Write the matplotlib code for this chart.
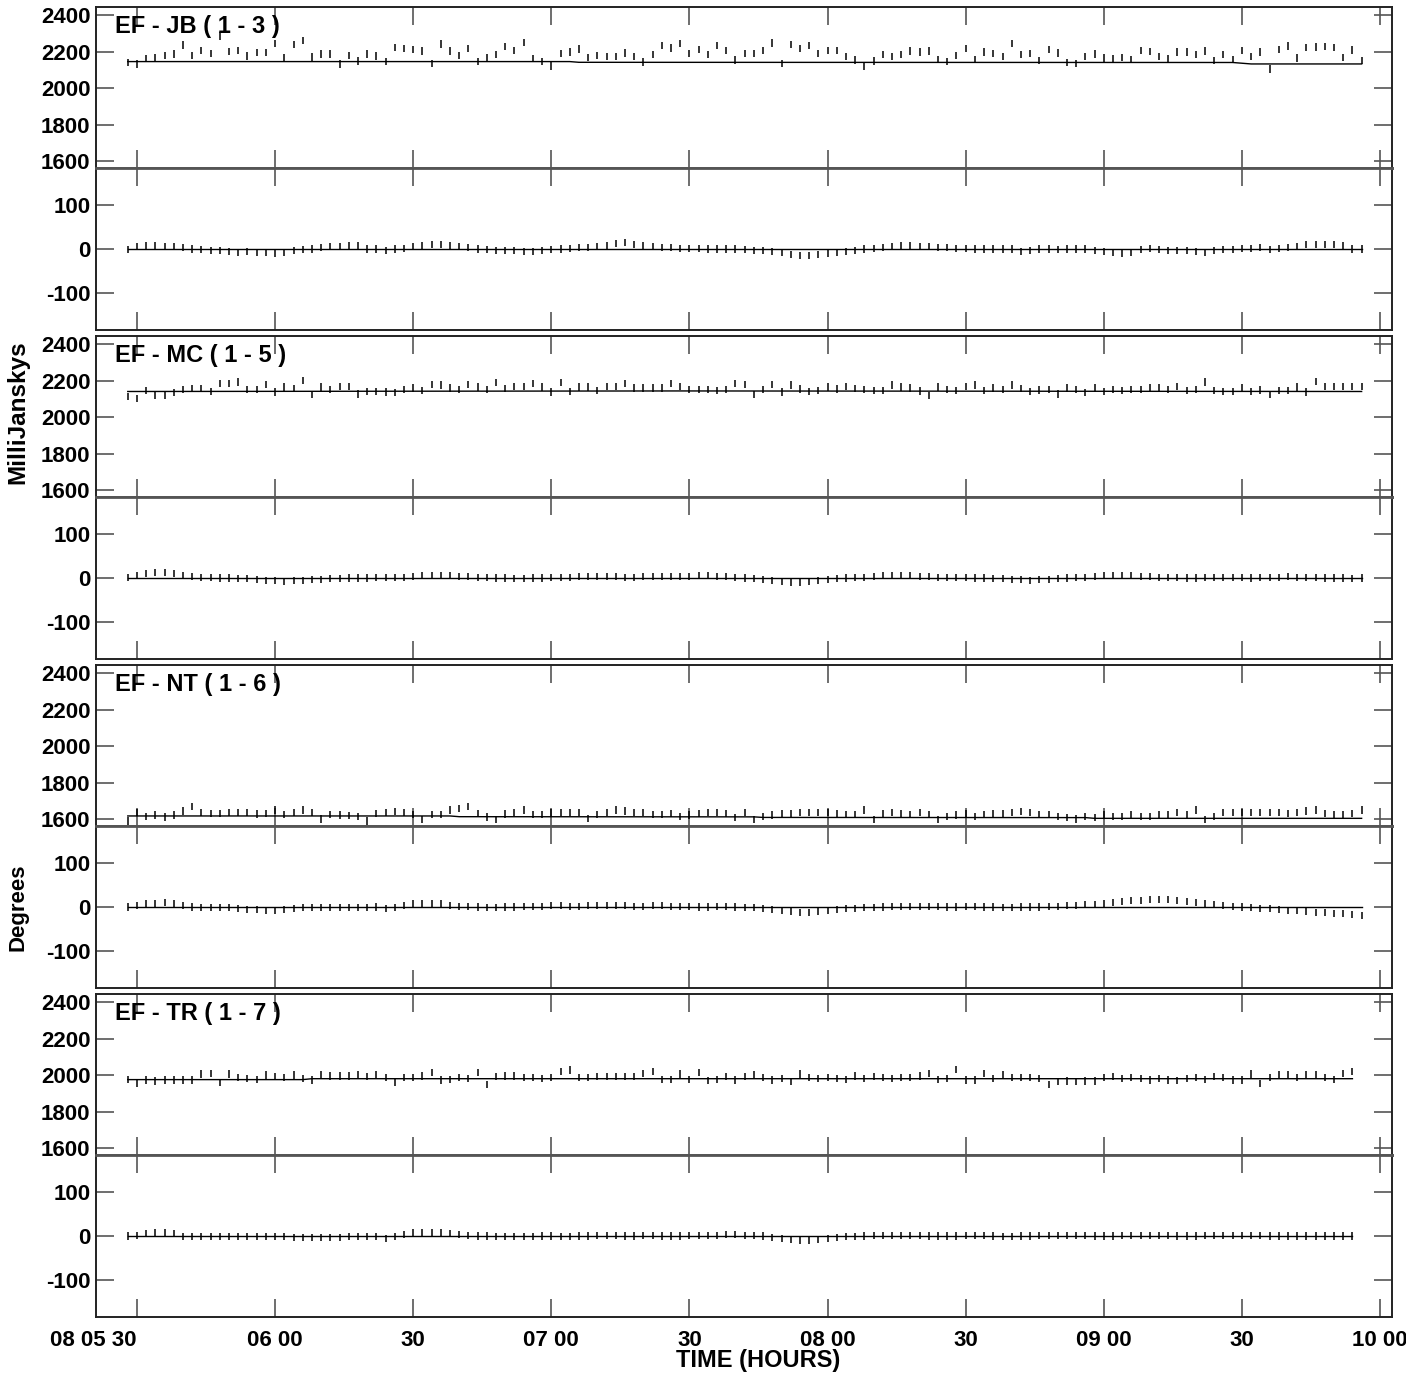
import numpy as np
import matplotlib
matplotlib.use('Agg')
import matplotlib.pyplot as plt

plt.rcParams['font.family'] = ['Liberation Sans', 'DejaVu Sans']
plt.rcParams['font.weight'] = 'bold'
plt.rcParams['axes.unicode_minus'] = False

baselines = ['EF - JB ( 1 - 3 )', 'EF - MC ( 1 - 5 )', 'EF - NT ( 1 - 6 )', 'EF - TR ( 1 - 7 )']

# sampling: first sample 05:28 on day 08, one every 2 minutes
scan_start = 328  # minutes after 00:00
scan_step = 2

# amplitudes (mJy), one per sample
amp_jb = [2139, 2131, 2160, 2168, 2180, 2186, 2235, 2180, 2205, 2190,
          2285, 2200, 2205, 2175, 2195, 2195, 2244, 2164, 2237, 2259,
          2170, 2186, 2186, 2131, 2180, 2148, 2186, 2176, 2145, 2222,
          2215, 2210, 2203, 2134, 2242, 2203, 2178, 2215, 2144, 2166,
          2183, 2228, 2205, 2251, 2161, 2144, 2120, 2188, 2197, 2214,
          2166, 2178, 2173, 2173, 2192, 2171, 2143, 2183, 2233, 2219,
          2243, 2188, 2210, 2183, 2233, 2205, 2153, 2188, 2188, 2205,
          2247, 2134, 2240, 2215, 2233, 2188, 2205, 2205, 2173, 2153,
          2118, 2148, 2183, 2171, 2183, 2203, 2197, 2203, 2155, 2144,
          2178, 2215, 2158, 2197, 2188, 2173, 2244, 2182, 2189, 2152,
          2212, 2192, 2141, 2136, 2171, 2187, 2164, 2163, 2166, 2158,
          2205, 2199, 2171, 2163, 2198, 2198, 2185, 2203, 2152, 2185,
          2157, 2205, 2171, 2198, 2105, 2213, 2230, 2164, 2222, 2225,
          2228, 2222, 2169, 2208, 2150]
amp_mc = [2114, 2103, 2145, 2119, 2119, 2133, 2151, 2155, 2155, 2141,
          2182, 2182, 2192, 2151, 2151, 2177, 2137, 2164, 2155, 2200,
          2122, 2164, 2151, 2169, 2169, 2127, 2141, 2141, 2137, 2133,
          2151, 2159, 2145, 2177, 2175, 2159, 2151, 2177, 2164, 2151,
          2188, 2155, 2169, 2169, 2182, 2164, 2137, 2188, 2141, 2164,
          2164, 2145, 2169, 2169, 2182, 2159, 2159, 2159, 2159, 2182,
          2169, 2151, 2151, 2151, 2145, 2151, 2182, 2178, 2122, 2151,
          2180, 2137, 2175, 2154, 2141, 2145, 2164, 2154, 2169, 2155,
          2151, 2145, 2145, 2175, 2164, 2159, 2143, 2119, 2164, 2151,
          2145, 2169, 2175, 2145, 2159, 2151, 2175, 2155, 2141, 2148,
          2151, 2127, 2159, 2151, 2133, 2159, 2141, 2151, 2145, 2151,
          2151, 2159, 2159, 2151, 2169, 2145, 2151, 2192, 2145, 2141,
          2141, 2159, 2139, 2148, 2122, 2145, 2145, 2164, 2137, 2195,
          2169, 2169, 2169, 2169, 2169]
amp_nt = [1589, 1637, 1613, 1622, 1611, 1622, 1645, 1668, 1636, 1631,
          1631, 1636, 1636, 1636, 1627, 1631, 1650, 1625, 1636, 1650,
          1636, 1601, 1625, 1622, 1619, 1613, 1590, 1631, 1636, 1640,
          1636, 1625, 1597, 1625, 1625, 1650, 1656, 1668, 1631, 1611,
          1597, 1627, 1636, 1650, 1625, 1625, 1636, 1636, 1636, 1636,
          1604, 1625, 1636, 1650, 1645, 1636, 1636, 1625, 1625, 1631,
          1613, 1622, 1631, 1636, 1636, 1631, 1607, 1636, 1599, 1613,
          1622, 1627, 1627, 1636, 1636, 1636, 1636, 1631, 1625, 1625,
          1650, 1599, 1631, 1636, 1631, 1625, 1636, 1625, 1597, 1613,
          1622, 1631, 1613, 1625, 1631, 1631, 1636, 1640, 1636, 1625,
          1625, 1613, 1607, 1601, 1613, 1607, 1622, 1613, 1613, 1625,
          1613, 1613, 1622, 1622, 1636, 1622, 1650, 1597, 1613, 1636,
          1636, 1636, 1636, 1636, 1636, 1636, 1631, 1636, 1645, 1650,
          1631, 1622, 1625, 1631, 1650]
amp_tr = [1975, 1955, 1973, 1968, 1973, 1973, 1973, 1973, 2005, 2009,
          1959, 2005, 1987, 1983, 1977, 2000, 1991, 1987, 2000, 1983,
          1973, 2000, 1995, 1995, 1995, 2000, 1991, 2000, 1987, 1962,
          1987, 1987, 1995, 2014, 1973, 1977, 1987, 1983, 2014, 1950,
          1991, 1995, 1995, 1987, 1987, 1983, 1987, 2018, 2028, 1987,
          1987, 1991, 1991, 1991, 1991, 1991, 2009, 2018, 1976, 1977,
          2005, 1977, 2014, 1970, 1977, 1991, 1973, 1991, 2000, 1987,
          1973, 1983, 1964, 2005, 1987, 1983, 1987, 1983, 1975, 1995,
          1983, 1991, 1987, 1983, 1987, 1987, 1995, 2009, 1975, 1983,
          2032, 1973, 1973, 2009, 1983, 2000, 1987, 1987, 1987, 1983,
          1950, 1964, 1968, 1964, 1968, 1968, 1987, 1991, 1983, 1987,
          1983, 1973, 1983, 1973, 1970, 1983, 1987, 1975, 1991, 1987,
          1973, 1973, 2005, 1955, 1987, 2000, 2000, 1987, 2000, 2000,
          1987, 1975, 2009, 2018]

# phases (degrees), one per sample
phase_jb = [-1, 5, 8, 8, 6, 6, 3, 0, -2, -4,
            -4, -6, -7, -6, -7, -9, -10, -7, -4, -2,
            0, 4, 6, 6, 7, 9, 0, 0, -4, 0,
            2, 5, 8, 10, 10, 8, 5, 3, 0, -2,
            -3, -4, -4, -5, -5, -4, -2, 0, 2, 3,
            4, 6, 8, 12, 14, 10, 8, 6, 4, 3,
            2, 2, 1, 0, 0, 0, 0, -2, -3, -4,
            -6, -8, -12, -14, -14, -12, -10, -8, -6, -3,
            0, 2, 4, 6, 8, 8, 6, 5, 4, 3,
            2, 1, 0, 0, 0, 0, 0, -5, -3, 0,
            0, -1, 0, 0, 0, -3, -6, -9, -10, -7,
            -1, 2, -1, -3, -3, -3, -5, -7, -3, -2,
            -1, 1, 2, 3, -2, 1, 4, 6, 10, 10,
            10, 10, 9, 0, 0]
phase_mc = [2, 6, 10, 12, 12, 10, 6, 3, 2, 1,
            0, 0, -1, -2, -3, -5, -6, -7, -6, -5,
            -4, -3, -2, -1, 0, 0, 0, 1, 1, 2,
            2, 3, 5, 6, 6, 5, 4, 3, 2, 1,
            0, 0, -1, -1, 0, 0, 1, 2, 2, 3,
            3, 4, 4, 3, 2, 2, 3, 4, 4, 3,
            3, 4, 5, 5, 4, 3, 2, 0, -2, -4,
            -6, -8, -10, -10, -8, -6, -4, -2, 0, 1,
            2, 4, 5, 6, 6, 5, 4, 3, 2, 2,
            2, 1, 0, 0, -1, -2, -3, -4, -5, -4,
            -3, -1, 0, 1, 2, 3, 5, 6, 6, 5,
            4, 3, 2, 1, 1, 0, 0, 1, 1, 2,
            2, 1, 0, 1, 2, 2, 3, 2, 1, 1,
            0, 0, 0, -1, 0]
phase_nt = [0, 4, 7, 9, 10, 9, 3, 0, -2, -2,
            -2, -2, -4, -6, -6, -8, -9, -6, -4, -2,
            -2, -2, -2, -1, -1, -1, -1, 0, -4, -2,
            4, 7, 7, 7, 7, 4, 2, 2, 0, -2,
            -2, 0, 0, 1, 2, 2, 3, 3, 2, 2,
            3, 4, 4, 3, 3, 2, 2, 3, 3, 2,
            1, 1, 0, 0, 1, 1, 0, -1, -2, -4,
            -6, -8, -10, -12, -12, -10, -8, -6, -4, -3,
            -2, -1, 0, 1, 2, 2, 2, 1, 1, 0,
            0, 1, 1, 0, 0, -1, -1, 0, 0, 0,
            1, 2, 3, 4, 5, 6, 8, 10, 12, 14,
            15, 16, 17, 16, 14, 12, 10, 8, 6, 4,
            2, 0, -2, -3, -4, -6, -8, -9, -10, -12,
            -13, -14, -15, -17, -20]
phase_tr = [0, 2, 5, 7, 7, 5, -1, -1, -1, -1,
            -1, -2, -2, -2, -2, -2, -2, -2, -3, -3,
            -3, -3, -3, -3, -2, -2, -1, -1, -5, -2,
            3, 7, 8, 8, 8, 6, 3, 1, 0, 0,
            -1, -1, -1, -1, -1, 0, 0, -1, -1, 0,
            0, 1, 1, 1, 0, 0, 1, 1, 0, 0,
            0, 1, 2, 2, 2, 3, 3, 2, 1, 0,
            -3, -6, -8, -10, -10, -8, -6, -4, -2, -1,
            0, 1, 1, 2, 2, 1, 1, 0, 0, 0,
            0, 1, 1, 1, 0, -1, -1, 0, 0, 1,
            1, 2, 2, 1, 1, 0, 0, 0, 1, 1,
            2, 2, 1, 1, 0, 0, 0, 1, 1, 2,
            2, 2, 1, 1, 0, 0, 0, 0, 0, 0,
            0, 0, 0, 0]

amp_err = 20    # half length of amplitude bars (mJy)
phase_err = 8   # half length of phase bars (deg)

# model line vertices: (sample index, value)
model_jb = [(0, 2145), (48, 2145), (49, 2141), (120, 2140), (122, 2132), (134, 2132)]
model_mc = [(0, 2140), (60, 2143), (134, 2140)]
model_nt = [(0, 1617), (35, 1617), (36, 1613), (68, 1612), (69, 1609), (104, 1608), (105, 1604), (134, 1604)]
model_tr = [(0, 1975), (19, 1975), (20, 1980), (133, 1980)]

time_ticks = [330, 360, 390, 420, 450, 480, 510, 540, 570, 600]
time_labels = ['08 05 30', '06 00', '30', '07 00', '30', '08 00', '30', '09 00', '30', '10 00']
amp_ticks = [1600, 1800, 2000, 2200, 2400]
phase_ticks = [-100, 0, 100]

amps = [amp_jb, amp_mc, amp_nt, amp_tr]
phases = [phase_jb, phase_mc, phase_nt, phase_tr]
models = [model_jb, model_mc, model_nt, model_tr]

W, H = 1406, 1375
fig = plt.figure(figsize=(W / 100, H / 100), dpi=100)


def px_axes(top, height):
    return fig.add_axes([96 / W, 1 - (top + height) / H, 1296 / W, height / H])


def style(ax, yticks, ylim):
    ax.set_xlim(321.1, 602.6)
    ax.set_ylim(*ylim)
    ax.set_yticks(yticks)
    ax.set_xticks(time_ticks)
    ax.tick_params(direction='in', length=13, width=1.2, color='#555555',
                   top=True, right=True, labelsize=16, pad=4)
    ax.tick_params(axis='x', labelbottom=False)
    for s in ax.spines.values():
        s.set_linewidth(1.4)
        s.set_color('#222222')


for k in range(4):
    times = scan_start + scan_step * np.arange(len(amps[k]))
    top = 7 + 329 * k

    ax_a = px_axes(top, 161)
    style(ax_a, amp_ticks, (1562, 2444))
    ax_a.spines['bottom'].set_color('#555555')
    ax_a.spines['bottom'].set_linewidth(2)
    a = np.array(amps[k])
    ax_a.vlines(times, a - amp_err, a + amp_err, colors='black', linewidth=1.1)
    idx = [m[0] for m in models[k]]
    ax_a.plot(times[idx], [m[1] for m in models[k]], color='black', linewidth=1.0)

    ax_p = px_axes(top + 161, 162)
    style(ax_p, phase_ticks, (-184, 184))
    ax_p.spines['top'].set_color('#555555')
    ax_p.spines['top'].set_linewidth(2)
    p = np.array(phases[k])
    ax_p.vlines(times, p - phase_err, p + phase_err, colors='black', linewidth=1.1)
    ax_p.plot([times[0], times[-1]], [0, 0], color='black', linewidth=1.0)

    fig.text(115 / W, 1 - (33 + 329 * k) / H, baselines[k], fontsize=17,
             fontweight='bold', ha='left', va='baseline')

    if k == 3:
        ax_p.tick_params(axis='x', labelbottom=True, labelsize=16, pad=9)
        ax_p.set_xticklabels(time_labels)
        ax_p.get_xticklabels()[0].set_ha('right')

fig.text(18 / W, 1 - 412 / H, 'MilliJanskys', rotation=90, fontsize=17.5,
         fontweight='bold', ha='center', va='center')
fig.text(18 / W, 1 - 907 / H, 'Degrees', rotation=90, fontsize=16,
         fontweight='bold', ha='center', va='center')
fig.text(758 / W, 1 - 1361 / H, 'TIME (HOURS)', fontsize=17,
         fontweight='bold', ha='center', va='center')

fig.savefig('out.png', dpi=100)
